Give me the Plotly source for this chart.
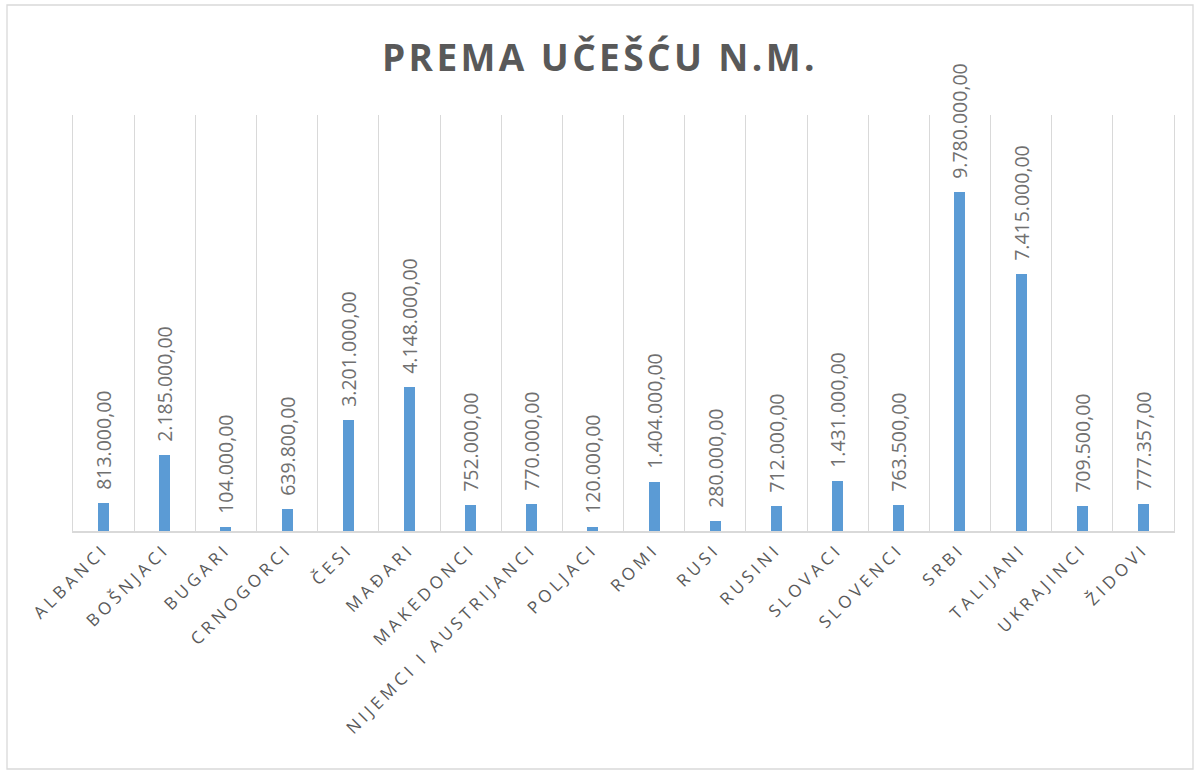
import plotly.graph_objects as go

categories = ["ALBANCI", "BOŠNJACI", "BUGARI", "CRNOGORCI", "ČESI", "MAĐARI", "MAKEDONCI",
              "NIJEMCI I AUSTRIJANCI", "POLJACI", "ROMI", "RUSI", "RUSINI", "SLOVACI",
              "SLOVENCI", "SRBI", "TALIJANI", "UKRAJINCI", "ŽIDOVI"]
values = [813000, 2185000, 104000, 639800, 3201000, 4148000, 752000, 770000, 120000,
          1404000, 280000, 712000, 1431000, 763500, 9780000, 7415000, 709500, 777357]
title_text = "PREMA UČEŠĆU N.M."

n = len(categories)
xs = list(range(n))

fig = go.Figure(go.Bar(
    x=xs, y=values, width=0.18,
    marker=dict(color="#5b9bd5", line=dict(width=0)),
    texttemplate="\u00a0\u00a0%{y:,.2f}", textposition="outside", textangle=-90,
    textfont=dict(family="Open Sans", size=19.5, color="#707070"),
    constraintext="none", cliponaxis=False,
))

W, H = 1200, 776
L, R, T, B = 73, 26, 115, 245
pw, ph = W - L - R, H - T - B

fig.update_layout(
    width=W, height=H,
    margin=dict(l=L, r=R, t=T, b=B),
    paper_bgcolor="white", plot_bgcolor="white",
    separators=",.",
    showlegend=False,
    title=dict(text="<b>" + title_text + "</b>", x=0.5, xanchor="center", y=1 - 58 / H, yanchor="middle",
               font=dict(family="Open Sans", size=37, color="#595959")),
    xaxis=dict(
        range=[-0.5, n - 0.5], tickmode="array", tickvals=xs, ticktext=categories,
        tickangle=-45, showgrid=False, zeroline=False,
        showline=True, linecolor="#d9d9d9", linewidth=1.5, ticks="",
        tickfont=dict(family="Open Sans", size=17, color="#595959"),
        minor=dict(tick0=-0.5, dtick=1, showgrid=True, gridcolor="#d9d9d9", gridwidth=1.3),
    ),
    yaxis=dict(range=[0, 12000000], showticklabels=False, showgrid=False, zeroline=False,
               showline=True, mirror=True, linecolor="#d9d9d9", linewidth=1.3, ticks=""),
    bargap=0,
)

# outer chart border
fig.add_shape(type="rect", xref="paper", yref="paper",
              x0=(7 - L) / pw, x1=(1193 - L) / pw,
              y0=(H - B - 769) / ph, y1=(H - B - 5) / ph,
              line=dict(color="#d9d9d9", width=1.3), fillcolor="rgba(0,0,0,0)", layer="below")

post = """
document.body.style.margin='0';
var gd=document.getElementById('{plot_id}');
gd.querySelectorAll('.xtick text').forEach(function(t){t.style.letterSpacing='4px';});
gd.querySelectorAll('.gtitle').forEach(function(t){t.style.letterSpacing='3.4px';});
"""

fig.write_html("out.html", post_script=post, config={"displayModeBar": False})
